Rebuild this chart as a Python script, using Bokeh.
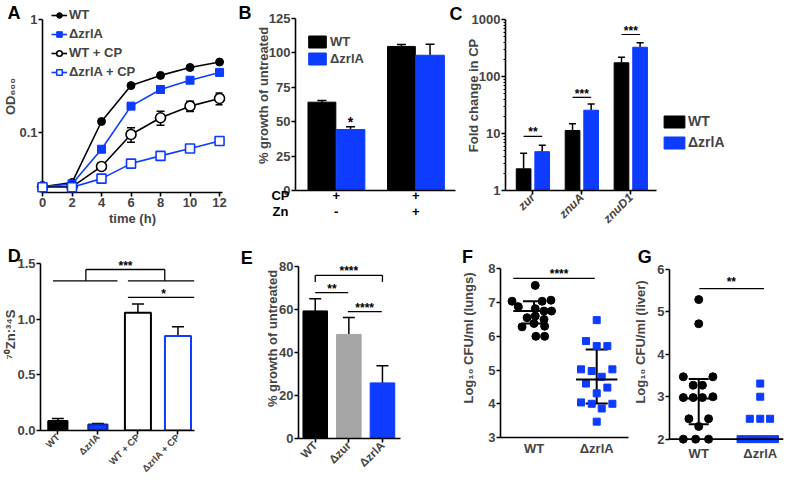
import numpy as np
from bokeh.plotting import figure
from bokeh.layouts import row, column
from bokeh.models import (Range1d, FixedTicker, Whisker, TeeHead, Legend, LegendItem,
                          ColumnDataSource, Span, PrintfTickFormatter)
from bokeh.core.properties import value
from bokeh.embed import file_html
from bokeh.resources import INLINE

FONT = "Liberation Sans"
BLUE = "#0d3bff"
GREY = "#a6a6a6"

# ---------------- data ----------------
# A: growth curves
a_time = [0, 2, 4, 6, 8, 10, 12]
a_wt = [0.033, 0.036, 0.125, 0.26, 0.32, 0.376, 0.42]
a_zrla = [0.033, 0.035, 0.071, 0.171, 0.24, 0.29, 0.34]
a_wt_cp = [0.033, 0.033, 0.050, 0.096, 0.135, 0.171, 0.200]
a_wt_cp_err = [0.0, 0.0, 0.0, 0.014, 0.019, 0.018, 0.024]
a_zrla_cp = [0.0327, 0.0327, 0.039, 0.053, 0.062, 0.072, 0.084]
a_names = ["WT", "ΔzrlA", "WT + CP", "ΔzrlA + CP"]

# B: % growth of untreated
b_rows = ["CP", "Zn"]
b_cp = ["+", "+"]
b_zn = ["-", "+"]
b_wt = [64.2, 104.7]
b_wt_err = [1.2, 1.5]
b_zrla = [44.3, 98.3]
b_zrla_err = [2.0, 8.0]
b_sig_text = ["*"]
b_sig_y = [49.5]

# C: fold change in CP
c_genes = ["zur", "znuA", "znuD1"]
c_wt = [2.4, 11.3, 174.0]
c_wt_err = [2.1, 3.5, 44.0]
c_zrla = [4.8, 25.6, 326.0]
c_zrla_err = [1.4, 7.4, 64.0]
c_sig = ["**", "***", "***"]
c_sig_y = [8.9, 43.0, 546.0]

# D: 70Zn:34S
d_labels = ["WT", "ΔzrlA", "WT + CP", "ΔzrlA + CP"]
d_vals = [0.085, 0.055, 1.06, 0.85]
d_err = [0.022, 0.008, 0.08, 0.085]
d_sig_x0 = [-0.12, 1.75, 0.70, 2.67, 0.70, 1.75]
d_sig_x1 = [1.49, 3.41, 0.70, 2.67, 2.67, 3.41]
d_sig_y0 = [1.348, 1.348, 1.348, 1.348, 1.450, 1.198]
d_sig_y1 = [1.348, 1.348, 1.450, 1.450, 1.450, 1.198]
d_star_x = [1.69, 2.64]
d_star_y = [1.478, 1.228]
d_star_t = ["***", "*"]

# E: % growth of untreated
e_labels = ["WT", "Δzur", "ΔzrlA"]
e_vals = [59.2, 48.3, 25.8]
e_err = [5.7, 7.9, 8.0]
e_sig_x0 = [0.0, 0.0, 2.0, 0.0, 0.97]
e_sig_x1 = [2.0, 0.0, 2.0, 0.98, 1.98]
e_sig_y0 = [75.7, 72.6, 72.6, 67.7, 58.9]
e_sig_y1 = [75.7, 75.7, 75.7, 67.7, 58.9]
e_star_x = [1.0, 0.5, 1.47]
e_star_y = [77.5, 69.5, 60.7]
e_star_t = ["****", "**", "****"]

# F: lungs
f_groups = ["WT", "ΔzrlA"]
f_wt = [7.51, 7.04, 7.04, 7.07, 6.88, 6.82, 6.75, 6.75, 6.60, 6.55, 6.50, 6.38, 6.30, 6.28, 6.00, 6.00]
f_wt_dx = [0.02, -0.35, 0.13, 0.27, -0.25, 0.02, 0.16, 0.28, 0.02, -0.11, 0.16, 0.0, 0.17, -0.19, 0.03, 0.17]
f_zrla = [6.48, 5.86, 5.71, 5.71, 5.02, 4.97, 5.02, 4.80, 4.60, 4.48, 4.31, 4.04, 4.00, 4.00, 3.86, 3.47]
f_zrla_dx = [0.0, -0.17, 0.0, 0.17, -0.25, -0.08, 0.25, 0.08, -0.17, 0.17, 0.0, -0.25, -0.08, 0.25, 0.08, 0.0]
f_mid = [6.75, 4.72]
f_lo = [6.38, 4.01]
f_hi = [7.04, 5.61]
f_sig = ["****"]
f_sig_line = [-0.33, 0.97, 7.72]
f_sig_pos = [0.40, 7.86]

# G: liver
g_groups = ["WT", "ΔzrlA"]
g_wt = [5.29, 4.72, 3.47, 3.47, 3.27, 3.27, 2.98, 2.98, 2.98, 3.00, 2.48, 2.48, 2.30, 2.00, 2.00, 2.00]
g_wt_dx = [0.0, 0.0, -0.25, 0.23, -0.09, 0.06, -0.25, -0.09, 0.06, 0.23, -0.16, 0.16, 0.0, -0.25, -0.05, 0.16]
g_zrla = [3.31, 3.00, 2.48, 2.48, 2.48, 2.00, 2.00, 2.00, 2.00, 2.00, 2.00]
g_zrla_dx = [0.0, 0.0, -0.17, 0.0, 0.16, -0.32, -0.20, -0.09, 0.02, 0.13, 0.24]
g_mid = [2.96]
g_lo = [2.35]
g_hi = [3.42]
g_sig = ["**"]
g_sig_line = [0.01, 1.06, 5.55]
g_sig_pos = [0.53, 5.70]


# ---------------- helpers ----------------
def make_fig(w, h, xr, yr, ml, mr, mt, mb, ylog=False):
    kw = dict(width=w, height=h, x_range=xr, y_range=yr, output_backend="svg",
              toolbar_location=None, min_border_left=ml, min_border_right=mr,
              min_border_top=mt, min_border_bottom=mb, frame_align=False)
    if ylog:
        kw["y_axis_type"] = "log"
    p = figure(**kw)
    p.grid.visible = False
    p.outline_line_color = None
    p.background_fill_color = None
    p.border_fill_color = None
    for ax in p.axis:
        ax.axis_line_width = 1.6
        ax.major_tick_line_width = 1.6
        ax.minor_tick_line_color = None
        ax.major_tick_out = 4
        ax.major_tick_in = 0
        ax.major_label_text_font = FONT
        ax.major_label_text_font_size = "13px"
        ax.major_label_text_font_style = "bold"
        ax.major_label_standoff = 1
        ax.axis_label_text_font = FONT
        ax.axis_label_text_font_size = "13px"
        ax.axis_label_text_font_style = "bold"
        ax.axis_label_standoff = 1
    return p


def upper_whisker(p, xs, tops, errs, head=9):
    src = ColumnDataSource(dict(base=list(xs), lower=list(tops),
                                upper=[t + e for t, e in zip(tops, errs)]))
    w = Whisker(source=src, base="base", lower="lower", upper="upper",
                line_width=1.5, line_color="black", lower_head=None,
                upper_head=TeeHead(size=head, line_width=1.5, line_color="black"))
    p.add_layout(w)


def star_text(p, xs, ys, texts, size="12px"):
    p.text(x=list(xs), y=list(ys), text=list(texts), text_font=value(FONT),
           text_font_size=size, text_font_style="bold", text_align="center",
           text_baseline="middle", text_color="black")


def free_text(p, x, y, texts, xoff, yoff, size="13px", align="center", baseline="middle"):
    # text drawn on the overlay level so it may sit outside the plot frame
    p.text(x=list(x), y=list(y), text=list(texts), x_offset=xoff, y_offset=yoff,
           text_font=value(FONT), text_font_size=size, text_font_style="bold",
           text_align=align, text_baseline=baseline, text_color="black", level="overlay")


def letter(p, t, xoff, yoff):
    free_text(p, [p.x_range.start], [p.y_range.end], [t], xoff, yoff,
              size="18px", align="left", baseline="top")


def letter_at(p, t, x, y):
    free_text(p, [x], [y], [t], 0, 0, size="18px", align="left", baseline="top")


def style_legend(lg, gw, gh, spacing, size="13px"):
    lg.glyph_width = gw
    lg.glyph_height = gh
    lg.label_height = gh
    lg.spacing = spacing
    lg.padding = 0
    lg.margin = 0
    lg.label_standoff = 2
    lg.border_line_color = None
    lg.background_fill_alpha = 0
    lg.label_text_font = FONT
    lg.label_text_font_size = size
    lg.label_text_font_style = "bold"


H1, H2 = 238, 242

# ---------------- A ----------------
pA = make_fig(252, H1, Range1d(0, 12.2), Range1d(0.0294, 1.473), 36, 30, 0, 46, ylog=True)
pA.xaxis.ticker = FixedTicker(ticks=a_time)
pA.yaxis.ticker = FixedTicker(ticks=[0.1, 1])
pA.yaxis.major_label_overrides = {0.1: "0.1", 1: "1"}
pA.yaxis.bounds = (0.0294, 1.0)
pA.xaxis.axis_label = "time (h)"
pA.yaxis.axis_label = "OD₆₀₀"
pA.yaxis.axis_label_standoff = -2

t = np.array(a_time, dtype=float)
wcp = np.array(a_wt_cp)
ecp = np.array(a_wt_cp_err)
m = ecp > 0
srcA = ColumnDataSource(dict(base=t[m], lower=wcp[m] - ecp[m], upper=wcp[m] + ecp[m]))
pA.add_layout(Whisker(source=srcA, base="base", lower="lower", upper="upper", line_width=1.5,
                      upper_head=TeeHead(size=8, line_width=1.5),
                      lower_head=TeeHead(size=8, line_width=1.5)))

l1 = pA.line(a_time, a_wt, line_color="black", line_width=1.6)
s1 = pA.scatter(a_time, a_wt, marker="circle", size=8, fill_color="black", line_color="black", level="overlay")
l2 = pA.line(a_time, a_zrla, line_color=BLUE, line_width=1.6)
s2 = pA.scatter(a_time, a_zrla, marker="square", size=8, fill_color=BLUE, line_color=BLUE, level="overlay")
l3 = pA.line(a_time, a_wt_cp, line_color="black", line_width=1.6)
s3 = pA.scatter(a_time, a_wt_cp, marker="circle", size=10, fill_color="white", line_color="black", line_width=1.6, level="overlay")
l4 = pA.line(a_time, a_zrla_cp, line_color=BLUE, line_width=1.6)
s4 = pA.scatter(a_time, a_zrla_cp, marker="square", size=9, fill_color="white", line_color=BLUE, line_width=1.6, level="overlay")

legA = Legend(items=[LegendItem(label=a_names[0], renderers=[l1, s1]),
                     LegendItem(label=a_names[1], renderers=[l2, s2]),
                     LegendItem(label=a_names[2], renderers=[l3, s3]),
                     LegendItem(label=a_names[3], renderers=[l4, s4])],
              location=(9, 113))
style_legend(legA, 16, 14, 4)
pA.add_layout(legA)
letter(pA, "A", -35, 2)
letter(pA, "B", 196, 2)

# ---------------- B ----------------
pB = make_fig(210, H1, Range1d(-0.512, 1.5), Range1d(0, 138.1), 38, 7, 0, 48)
pB.yaxis.ticker = FixedTicker(ticks=[0, 25, 50, 75, 100, 125])
pB.yaxis.bounds = (0, 125)
pB.yaxis.axis_label = "% growth of untreated"
pB.yaxis.axis_label_standoff = -5
pB.xaxis.ticker = FixedTicker(ticks=[])
pB.xaxis.major_tick_out = 0
gx = np.arange(len(b_wt))
rb1 = pB.vbar(x=gx - 0.18, top=b_wt, width=0.35, fill_color="black", line_color="black")
rb2 = pB.vbar(x=gx + 0.18, top=b_zrla, width=0.36, fill_color=BLUE, line_color=BLUE)
upper_whisker(pB, gx - 0.18, b_wt, b_wt_err)
upper_whisker(pB, gx + 0.18, b_zrla, b_zrla_err)
star_text(pB, [0.18], b_sig_y, b_sig_text, size="14px")
row_off = [5, 21]
for name, row_vals, yo in zip(b_rows, (b_cp, b_zn), row_off):
    free_text(pB, [pB.x_range.start], [0], [name], -15, yo)
    free_text(pB, gx, [0] * len(gx), row_vals, 0, yo)
legB = Legend(items=[LegendItem(label="WT", renderers=[rb1]),
                     LegendItem(label="ΔzrlA", renderers=[rb2])],
              location=(11, 124))
style_legend(legB, 22, 15, 2)
pB.add_layout(legB)
letter(pB, "C", 154, 3)

# ---------------- C ----------------
pC = make_fig(322, H1, Range1d(-0.56, 5.12), Range1d(1, 2154), 37, 1, 0, 48, ylog=True)
cx = np.arange(len(c_genes))
pC.xaxis.ticker = FixedTicker(ticks=list(cx))
pC.xaxis.bounds = (-0.56, 2.52)
pC.xaxis.major_label_overrides = {int(i): g for i, g in zip(cx, c_genes)}
pC.xaxis.major_label_orientation = np.pi / 4
pC.xaxis.major_label_text_font_style = "bold italic"
pC.xaxis.major_label_text_font_size = "12px"
pC.yaxis.ticker = FixedTicker(ticks=[1, 10, 100, 1000],
                              minor_ticks=[k * 10 ** d for d in range(3) for k in range(2, 10)])
pC.yaxis.bounds = (1, 1000)
pC.yaxis.minor_tick_line_color = "black"
pC.yaxis.minor_tick_out = 2
pC.yaxis.minor_tick_in = 0
pC.yaxis.major_label_overrides = {1: "1", 10: "10", 100: "100", 1000: "1000"}
pC.yaxis.axis_label = "Fold change in CP"
pC.yaxis.axis_label_standoff = -12
rc1 = pC.vbar(x=cx - 0.19, top=c_wt, bottom=1, width=0.3, fill_color="black", line_color="black")
rc2 = pC.vbar(x=cx + 0.19, top=c_zrla, bottom=1, width=0.3, fill_color=BLUE, line_color=BLUE)
upper_whisker(pC, cx - 0.19, c_wt, c_wt_err, head=7)
upper_whisker(pC, cx + 0.19, c_zrla, c_zrla_err, head=7)
pC.segment(x0=list(cx - 0.19), x1=list(cx + 0.19), y0=c_sig_y, y1=c_sig_y, line_color="black", line_width=1.2)
star_text(pC, cx, [v * 1.17 for v in c_sig_y], c_sig)
legC = Legend(items=[LegendItem(label="WT", renderers=[rc1]),
                     LegendItem(label="ΔzrlA", renderers=[rc2])],
              location=(156, 40))
style_legend(legC, 26, 15, 5, size="14px")
legC.label_standoff = 1
pC.add_layout(legC)

# ---------------- D ----------------
pD = make_fig(262, H2, Range1d(-0.433, 3.413), Range1d(0, 1.729), 34, 68, 0, 46)
dx = np.arange(len(d_labels))
pD.yaxis.ticker = FixedTicker(ticks=[0, 0.5, 1.0, 1.5])
pD.yaxis.formatter = PrintfTickFormatter(format="%.1f")
pD.yaxis.bounds = (0, 1.5)
pD.yaxis.axis_label = "⁷⁰Zn:³⁴S"
pD.yaxis.axis_label_standoff = -4
pD.xaxis.ticker = FixedTicker(ticks=list(dx))
pD.xaxis.major_label_overrides = {int(i): s for i, s in zip(dx, d_labels)}
pD.xaxis.major_label_orientation = np.pi / 4
pD.xaxis.major_label_text_font_size = "9.5px"
pD.vbar(x=dx, top=d_vals, width=[0.48, 0.48, 0.65, 0.65],
        fill_color=["black", BLUE, "white", "white"],
        line_color=["black", "#0a2aa8", "black", BLUE], line_width=2)
upper_whisker(pD, dx, d_vals, d_err, head=12)
pD.segment(x0=d_sig_x0, x1=d_sig_x1, y0=d_sig_y0, y1=d_sig_y1, line_color="black", line_width=1.3)
star_text(pD, d_star_x, d_star_y, d_star_t)
letter_at(pD, "D", -1.25, 1.657)
letter_at(pD, "E", 4.57, 1.639)

# ---------------- E ----------------
pE = make_fig(196, H2, Range1d(-0.498, 2.537), Range1d(0, 92.8), 31, 58, 0, 42)
ex = np.arange(len(e_labels))
pE.yaxis.ticker = FixedTicker(ticks=[0, 20, 40, 60, 80])
pE.yaxis.bounds = (0, 80)
pE.yaxis.axis_label = "% growth of untreated"
pE.yaxis.axis_label_standoff = -4
pE.xaxis.ticker = FixedTicker(ticks=list(ex))
pE.xaxis.major_label_overrides = {int(i): s for i, s in zip(ex, e_labels)}
pE.xaxis.major_label_orientation = np.pi / 4
pE.xaxis.major_label_text_font_size = "11.5px"
pE.vbar(x=ex, top=e_vals, width=0.73, fill_color=["black", GREY, BLUE],
        line_color=["black", GREY, BLUE])
upper_whisker(pE, ex, e_vals, e_err, head=12)
pE.segment(x0=e_sig_x0, x1=e_sig_x1, y0=e_sig_y0, y1=e_sig_y1, line_color="black", line_width=1.3)
star_text(pE, e_star_x, e_star_y, e_star_t)

# ---------------- F ----------------
pF = make_fig(172, H2, Range1d(-0.534, 1.507), Range1d(3, 8.9), 40, 2, 0, 43)
pF.yaxis.ticker = FixedTicker(ticks=[3, 4, 5, 6, 7, 8])
pF.yaxis.bounds = (3, 8)
pF.yaxis.axis_label = "Log₁₀ CFU/ml (lungs)"
pF.yaxis.axis_label_standoff = 9
pF.xaxis.ticker = FixedTicker(ticks=[0, 1])
pF.xaxis.major_label_overrides = {0: f_groups[0], 1: f_groups[1]}
pF.xaxis.major_tick_out = 0
pF.xaxis.major_label_standoff = 3
pF.scatter(x=list(np.array(f_wt_dx) + 0), y=f_wt, marker="circle", size=8, color="black")
pF.scatter(x=list(np.array(f_zrla_dx) + 1), y=f_zrla, marker="square", size=7, color=BLUE)
fx = np.arange(2)
pF.segment(x0=list(fx - 0.33), x1=list(fx + 0.33), y0=f_mid, y1=f_mid, line_color="black", line_width=2)
pF.add_layout(Whisker(source=ColumnDataSource(dict(base=fx, lower=f_lo, upper=f_hi)),
                      base="base", lower="lower", upper="upper", line_width=2,
                      upper_head=TeeHead(size=22, line_width=2), lower_head=TeeHead(size=22, line_width=2)))
pF.segment(x0=[f_sig_line[0]], x1=[f_sig_line[1]], y0=[f_sig_line[2]], y1=[f_sig_line[2]], line_color="black", line_width=1.3)
star_text(pF, [f_sig_pos[0]], [f_sig_pos[1]], f_sig)
letter_at(pF, "F", -1.146, 8.66)

# ---------------- G ----------------
pG = make_fig(154, H2, Range1d(-0.475, 1.378), Range1d(1.85, 6.73), 34, 1, 0, 35)
pG.yaxis.ticker = FixedTicker(ticks=[2, 3, 4, 5, 6])
pG.yaxis.bounds = (2, 6)
pG.yaxis.axis_label = "Log₁₀ CFU/ml (liver)"
pG.yaxis.axis_label_standoff = 6
pG.xaxis.ticker = FixedTicker(ticks=[0, 1])
pG.xaxis.major_label_overrides = {0: g_groups[0], 1: g_groups[1]}
pG.xaxis.major_tick_out = 0
pG.xaxis.major_label_standoff = 0
pG.xaxis.axis_line_color = None
pG.add_layout(Span(location=2, dimension="width", line_color="black", line_width=1.6))
pG.scatter(x=list(np.array(g_wt_dx) + 0), y=g_wt, marker="circle", size=8, color="black")
pG.scatter(x=list(np.array(g_zrla_dx) + 1), y=g_zrla, marker="square", size=7, color=BLUE)
pG.segment(x0=[-0.3], x1=[0.3], y0=g_mid, y1=g_mid, line_color="black", line_width=2)
pG.add_layout(Whisker(source=ColumnDataSource(dict(base=[0], lower=g_lo, upper=g_hi)),
                      base="base", lower="lower", upper="upper", line_width=2,
                      upper_head=TeeHead(size=20, line_width=2), lower_head=TeeHead(size=20, line_width=2)))
pG.segment(x0=[g_sig_line[0]], x1=[g_sig_line[1]], y0=[g_sig_line[2]], y1=[g_sig_line[2]], line_color="black", line_width=1.3)
star_text(pG, [g_sig_pos[0]], [g_sig_pos[1]], g_sig)
letter_at(pG, "G", -0.99, 6.54)

layout = column(row(pA, pB, pC), row(pD, pE, pF, pG))
open("out.html", "w").write(file_html(layout, INLINE))
